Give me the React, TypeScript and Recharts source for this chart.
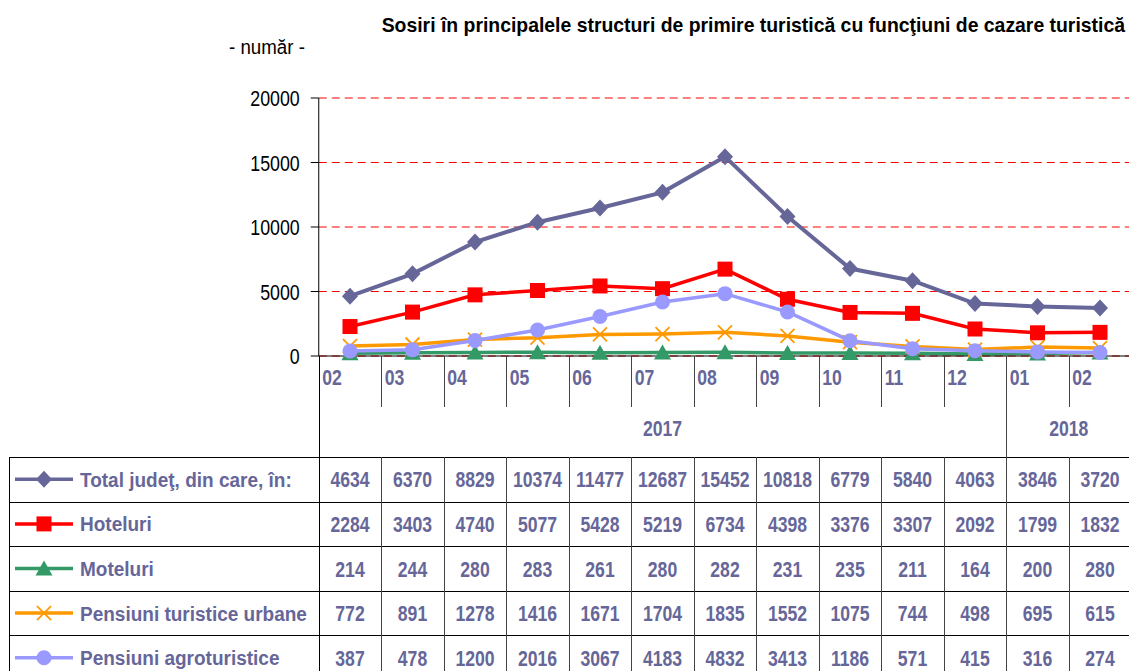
import { LineChart, Line, XAxis, YAxis, CartesianGrid } from 'recharts';

const months = ['02', '03', '04', '05', '06', '07', '08', '09', '10', '11', '12', '01', '02'];
const years = [
  { label: '2017', span: 11 },
  { label: '2018', span: 2 },
];
const total = [4634, 6370, 8829, 10374, 11477, 12687, 15452, 10818, 6779, 5840, 4063, 3846, 3720];
const hoteluri = [2284, 3403, 4740, 5077, 5428, 5219, 6734, 4398, 3376, 3307, 2092, 1799, 1832];
const moteluri = [214, 244, 280, 283, 261, 280, 282, 231, 235, 211, 164, 200, 280];
const urbane = [772, 891, 1278, 1416, 1671, 1704, 1835, 1552, 1075, 744, 498, 695, 615];
const agro = [387, 478, 1200, 2016, 3067, 4183, 4832, 3413, 1186, 571, 415, 316, 274];
const yTicks = [0, 5000, 10000, 15000, 20000];

const FONT = "'Liberation Sans', Arial, sans-serif";
const TEXT_BLUE = '#666699';

const PLOT_LEFT = 318.75;
const COL_W = 62.5;
const PLOT_TOP = 98;
const AXIS_Y = 356;
const MONTH_ROW_B = 407;
const TABLE_TOP = 457;
const ROW_H = 44.6;
const LABEL_X = 9;
const W = 1129;
const H = 671;

type Marker = 'diamond' | 'square' | 'triangle' | 'cross' | 'circle';

const series: { key: string; name: string; color: string; marker: Marker; values: number[] }[] = [
  { key: 'total', name: 'Total judeţ, din care, în:', color: '#666699', marker: 'diamond', values: total },
  { key: 'hoteluri', name: 'Hoteluri', color: '#FF0000', marker: 'square', values: hoteluri },
  { key: 'moteluri', name: 'Moteluri', color: '#339966', marker: 'triangle', values: moteluri },
  { key: 'urbane', name: 'Pensiuni turistice urbane', color: '#FF9900', marker: 'cross', values: urbane },
  { key: 'agro', name: 'Pensiuni agroturistice', color: '#9999FF', marker: 'circle', values: agro },
];

const rows = months.map((m, i) => {
  const r: Record<string, string | number> = { m };
  series.forEach((s) => (r[s.key] = s.values[i]));
  return r;
});

// crisp 1px line position
const px = (v: number) => Math.round(v) + 0.5;

function NText(props: {
  x: number; y: number; s?: number; size: number; bold?: boolean; fill?: string;
  anchor?: 'start' | 'middle' | 'end'; children: any;
}) {
  const { x, y, s = 0.8, size, bold, fill = '#000', anchor = 'start', children } = props;
  return (
    <text
      transform={`translate(${x},${y}) scale(${s},1)`}
      fontSize={size}
      fontWeight={bold ? 'bold' : 'normal'}
      fontFamily={FONT}
      fill={fill}
      textAnchor={anchor}
    >
      {children}
    </text>
  );
}

function drawMarker(marker: Marker, color: string, cx: number, cy: number, key?: string | number) {
  switch (marker) {
    case 'diamond':
      return <polygon key={key} points={`${cx},${cy - 8.5} ${cx + 8},${cy} ${cx},${cy + 8.5} ${cx - 8},${cy}`} fill={color} />;
    case 'square':
      return <rect key={key} x={cx - 7.5} y={cy - 7.5} width={15} height={15} fill={color} />;
    case 'triangle':
      return <polygon key={key} points={`${cx},${cy - 8} ${cx + 8.5},${cy + 7} ${cx - 8.5},${cy + 7}`} fill={color} />;
    case 'cross':
      return (
        <g key={key} stroke={color} strokeWidth={1.8}>
          <line x1={cx - 7} y1={cy - 7} x2={cx + 7} y2={cy + 7} />
          <line x1={cx - 7} y1={cy + 7} x2={cx + 7} y2={cy - 7} />
        </g>
      );
    default:
      return <circle key={key} cx={cx} cy={cy} r={7.5} fill={color} />;
  }
}

const MonthTick = (props: any) => {
  const { x, y, payload, index } = props;
  const right = x + COL_W / 2;
  return (
    <g>
      <NText x={x - COL_W / 2 + 3.5} y={y + 29} size={22} bold fill={TEXT_BLUE}>
        {payload.value}
      </NText>
      {index < months.length - 1 && (
        <line x1={px(right)} x2={px(right)} y1={y} y2={MONTH_ROW_B} stroke="#444" />
      )}
    </g>
  );
};

const ValueTick = (props: any) => {
  const { x, y, payload } = props;
  return (
    <NText x={x} y={y + 8} size={22} s={0.81} anchor="end">
      {payload.value}
    </NText>
  );
};

export default function App() {
  const tableRight = PLOT_LEFT + COL_W * months.length;
  let yearStart = 0;

  return (
    <div style={{ position: 'relative', width: W, height: H, overflow: 'hidden', background: '#fff' }}>
      <style>{'body{margin:0}'}</style>

      <div style={{ position: 'absolute', left: 0, top: 0 }}>
        <LineChart width={1140} height={420} data={rows} margin={{ top: PLOT_TOP, right: 1140 - tableRight, bottom: 420 - MONTH_ROW_B, left: 0 }}>
          <CartesianGrid vertical={false} stroke="#FF0000" strokeDasharray="8 5" />
          <XAxis
            dataKey="m"
            height={MONTH_ROW_B - AXIS_Y}
            interval={0}
            tickSize={0}
            tickMargin={0}
            tickLine={false}
            axisLine={{ stroke: '#000' }}
            padding={{ left: COL_W / 2, right: COL_W / 2 }}
            tick={<MonthTick />}
          />
          <YAxis
            width={PLOT_LEFT}
            domain={[0, 20000]}
            ticks={yTicks}
            interval={0}
            tickSize={8}
            tickMargin={11}
            axisLine={{ stroke: '#000' }}
            tickLine={{ stroke: '#000' }}
            tick={<ValueTick />}
          />
          {series.map((s) => (
            <Line
              key={s.key}
              dataKey={s.key}
              stroke={s.color}
              strokeWidth={s.key === 'total' ? 4 : 3.5}
              isAnimationActive={false}
              dot={(p: any) => drawMarker(s.marker, s.color, p.cx, p.cy, p.key ?? p.index)}
              activeDot={false}
            />
          ))}
        </LineChart>
      </div>

      <svg style={{ position: 'absolute', left: 0, top: 0 }} width={W} height={H}>
        <NText x={1125} y={31.5} size={20} s={0.97} bold anchor="end">
          Sosiri în principalele structuri de primire turistică cu funcţiuni de cazare turistică
        </NText>
        <NText x={229} y={54} size={19.5} s={0.96}>
          - număr -
        </NText>

        {/* year row */}
        <line x1={px(PLOT_LEFT)} x2={px(PLOT_LEFT)} y1={AXIS_Y} y2={H} stroke="#000" />
        {years.map((y) => {
          const left = PLOT_LEFT + yearStart * COL_W;
          const w = y.span * COL_W;
          yearStart += y.span;
          return (
            <g key={y.label}>
              <NText x={left + w / 2} y={436} size={22} bold fill={TEXT_BLUE} anchor="middle">
                {y.label}
              </NText>
              {left > PLOT_LEFT && <line x1={px(left)} x2={px(left)} y1={AXIS_Y} y2={TABLE_TOP} stroke="#444" />}
            </g>
          );
        })}

        {/* data table */}
        {series.map((s, r) => {
          const top = TABLE_TOP + r * ROW_H;
          const mid = top + ROW_H / 2;
          return (
            <g key={s.key}>
              <line x1={LABEL_X} x2={W} y1={px(top)} y2={px(top)} stroke="#000" />
              <line x1={15} x2={73} y1={mid} y2={mid} stroke={s.color} strokeWidth={3.5} />
              {drawMarker(s.marker, s.color, 44, mid)}
              <NText x={80} y={mid + 7.5} size={21} s={0.905} bold fill={TEXT_BLUE}>
                {s.name}
              </NText>
              {s.values.map((v, c) => (
                <NText key={c} x={PLOT_LEFT + c * COL_W + COL_W / 2} y={mid + 8} size={22} bold fill={TEXT_BLUE} anchor="middle">
                  {v}
                </NText>
              ))}
            </g>
          );
        })}
        <line x1={LABEL_X} x2={W} y1={px(TABLE_TOP + ROW_H * series.length)} y2={px(TABLE_TOP + ROW_H * series.length)} stroke="#000" />
        <line x1={px(LABEL_X)} x2={px(LABEL_X)} y1={TABLE_TOP} y2={H} stroke="#000" />
        {months.slice(1).map((_, k) => {
          const x = px(PLOT_LEFT + (k + 1) * COL_W);
          return <line key={k} x1={x} x2={x} y1={TABLE_TOP} y2={H} stroke="#444" />;
        })}
      </svg>
    </div>
  );
}
